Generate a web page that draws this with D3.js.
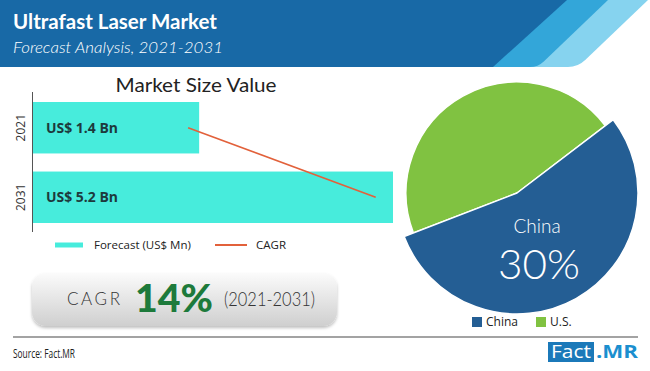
<!DOCTYPE html>
<html><head><meta charset="utf-8">
<script src="https://cdn.jsdelivr.net/npm/d3@7"></script>
<style>body{margin:0;background:#fff}svg{display:block}</style>
</head><body><svg id="c" width="650" height="371"></svg>
<script>
// ---- data ----
const years = ["2021", "2031"];
const barValues = [2.4, 5.2];            // visual bar lengths
const barLabels = ["US$ 1.4 Bn", "US$ 5.2 Bn"];
const cagrValues = [2.24, 4.95];         // CAGR line points
const pieRegions = ["China", "U.S."];
const pieShares = [54.5, 45.5];
const legendBar = ["Forecast (US$ Mn)", "CAGR"];

const svg = d3.select("#c");

// ---- header ----
const defs = svg.append("defs");
const hdr = svg.append("g");
function stripe(xTop, xBot, color, r) {
  const p = d3.path();
  p.moveTo(0, 0); p.lineTo(xTop, 0);
  const dx = xTop - xBot, dy = 67;
  const len = Math.hypot(dx, dy);
  p.lineTo(xBot + dx * r / len, dy - dy * r / len);
  p.quadraticCurveTo(xBot, dy, xBot - r, dy);
  p.lineTo(0, dy); p.closePath();
  hdr.append("path").attr("d", p.toString()).attr("fill", color);
}
stripe(648, 578, "#86d3ef", 10);
stripe(608, 538, "#33a6d9", 8);
stripe(567, 493, "#1869a6", 0.01);
hdr.append("text").attr("x", 13).attr("y", 29).text("Ultrafast Laser Market")
  .attr("fill", "#fff").attr("font-family", "Lato, sans-serif").attr("font-weight", 700)
  .attr("font-size", 20).attr("textLength", 204).attr("lengthAdjust", "spacingAndGlyphs");
hdr.append("text").attr("x", 13).attr("y", 53).text("Forecast Analysis, 2021-2031")
  .attr("fill", "#fff").attr("font-family", "Lato, sans-serif").attr("font-weight", 300)
  .attr("font-style", "italic").attr("font-size", 16).attr("textLength", 210).attr("lengthAdjust", "spacingAndGlyphs");

// ---- bar chart ----
const x = d3.scaleLinear().domain([0, 5.2]).range([33, 393]);
const y = d3.scaleBand().domain(years).range([102, 223]).paddingInner(0.26);

svg.append("text").attr("x", 196).attr("y", 92).attr("text-anchor", "middle")
  .text("Market Size Value").attr("font-family", "Lato, sans-serif").attr("font-weight", 400)
  .attr("font-size", 20).attr("fill", "#222").attr("textLength", 161).attr("lengthAdjust", "spacingAndGlyphs");

svg.selectAll("rect.bar").data(years).enter().append("rect").attr("class", "bar")
  .attr("x", x(0)).attr("y", d => y(d)).attr("height", y.bandwidth())
  .attr("width", (d, i) => x(barValues[i]) - x(0)).attr("fill", "#47ecdc");

svg.selectAll("text.bl").data(years).enter().append("text").attr("class", "bl")
  .attr("x", 46).attr("y", d => y(d) + y.bandwidth() / 2 + 5).text((d, i) => barLabels[i])
  .attr("font-family", "'Open Sans', sans-serif").attr("font-weight", 700).attr("font-size", 14)
  .attr("fill", "#1d3a3d").attr("textLength", 72).attr("lengthAdjust", "spacingAndGlyphs");

svg.append("line").attr("x1", 32.5).attr("x2", 32.5).attr("y1", 92).attr("y2", 232)
  .attr("stroke", "#555").attr("stroke-width", 1);
svg.selectAll("text.yl").data(years).enter().append("text").attr("class", "yl")
  .attr("transform", d => `translate(25,${y(d) + y.bandwidth() / 2}) rotate(-90)`)
  .attr("text-anchor", "middle").text(d => d)
  .attr("font-family", "'Open Sans', sans-serif").attr("font-size", 12).attr("fill", "#333");

const line = d3.line().x(d => x(d.v)).y(d => y(d.y) + y.bandwidth() / 2);
svg.append("path").datum(years.map((d, i) => ({ y: d, v: cagrValues[i] })))
  .attr("d", line).attr("stroke", "#e2613b").attr("stroke-width", 1.6).attr("fill", "none");

// legend
const lg = svg.append("g");
lg.append("line").attr("x1", 55).attr("x2", 83).attr("y1", 245).attr("y2", 245).attr("stroke", "#47ecdc").attr("stroke-width", 5);
lg.append("text").attr("x", 94).attr("y", 249).text(legendBar[0]).attr("font-family", "'Open Sans', sans-serif").attr("font-size", 11.5).attr("fill", "#222");
lg.append("line").attr("x1", 215).attr("x2", 247).attr("y1", 245).attr("y2", 245).attr("stroke", "#e2613b").attr("stroke-width", 2);
lg.append("text").attr("x", 256).attr("y", 249).text(legendBar[1]).attr("font-family", "'Open Sans', sans-serif").attr("font-size", 11.5).attr("fill", "#222");

// CAGR box
const g1 = defs.append("linearGradient").attr("id", "bx").attr("x1", 0).attr("x2", 0).attr("y1", 0).attr("y2", 1);
g1.append("stop").attr("offset", "0%").attr("stop-color", "#fbfbfb");
g1.append("stop").attr("offset", "100%").attr("stop-color", "#cfcfcf");
const f = defs.append("filter").attr("id", "sh").attr("x", "-10%").attr("y", "-10%").attr("width", "120%").attr("height", "140%");
f.append("feDropShadow").attr("dx", 0).attr("dy", 2).attr("stdDeviation", 1.5).attr("flood-color", "#000").attr("flood-opacity", 0.25);
svg.append("rect").attr("x", 32).attr("y", 273).attr("width", 305).attr("height", 53).attr("rx", 14)
  .attr("fill", "url(#bx)").attr("filter", "url(#sh)");
svg.append("text").attr("x", 67).attr("y", 305).text("CAGR").attr("font-family", "Lato, sans-serif").attr("font-weight", 300)
  .attr("font-size", 17).attr("fill", "#333").attr("textLength", 53).attr("lengthAdjust", "spacing");
svg.append("text").attr("x", 135).attr("y", 312).text("14%").attr("font-family", "Lato, sans-serif").attr("font-weight", 900)
  .attr("font-size", 37).attr("fill", "#1d7a3b").attr("textLength", 78).attr("lengthAdjust", "spacingAndGlyphs");
svg.append("text").attr("x", 224).attr("y", 306).text("(2021-2031)").attr("font-family", "Lato, sans-serif").attr("font-weight", 300)
  .attr("font-size", 19).attr("fill", "#333").attr("textLength", 91).attr("lengthAdjust", "spacingAndGlyphs");

// ---- pie ----
const colors = d3.scaleOrdinal().domain(pieRegions).range(["#245e94", "#80c241"]);
const radii = { "China": 121, "U.S.": 111 };
const a0 = 52.7 * Math.PI / 180;
const pie = d3.pie().sort(null).startAngle(a0).endAngle(a0 + 2 * Math.PI);
const arcs = pie(pieShares).map((a, i) => Object.assign(a, { k: pieRegions[i] }));
const pg = svg.append("g").attr("transform", "translate(517,193)");
pg.selectAll("path").data(arcs.slice().reverse()).enter().append("path")
  .attr("d", d => d3.arc().innerRadius(0).outerRadius(radii[d.k])(d))
  .attr("fill", d => colors(d.k)).attr("stroke", "#fff").attr("stroke-width", 1.5).attr("stroke-linejoin", "round");
pg.append("text").attr("x", 20).attr("y", 40).attr("text-anchor", "middle").text("China")
  .attr("font-family", "Lato, sans-serif").attr("font-weight", 300).attr("font-size", 19).attr("fill", "#fff");
pg.append("text").attr("x", 22).attr("y", 86).attr("text-anchor", "middle").text("30%")
  .attr("font-family", "Lato, sans-serif").attr("font-weight", 300).attr("font-size", 41).attr("fill", "#fff")
  .attr("textLength", 82).attr("lengthAdjust", "spacingAndGlyphs");

// pie legend
const pl = svg.append("g");
const lx = [472, 536];
pieRegions.forEach((r, i) => {
  pl.append("rect").attr("x", lx[i]).attr("y", 317).attr("width", 10).attr("height", 10).attr("fill", colors(r));
  pl.append("text").attr("x", lx[i] + 14).attr("y", 326).text(r).attr("font-family", "'Open Sans', sans-serif")
    .attr("font-size", 12).attr("fill", "#222");
});

// ---- footer ----
svg.append("line").attr("x1", 13).attr("x2", 638).attr("y1", 337).attr("y2", 337).attr("stroke", "#a3a3a3").attr("stroke-width", 2);
svg.append("text").attr("x", 13).attr("y", 358).text("Source: Fact.MR").attr("font-family", "'Open Sans', sans-serif")
  .attr("font-size", 13).attr("fill", "#222").attr("textLength", 62).attr("lengthAdjust", "spacingAndGlyphs");
svg.append("rect").attr("x", 548).attr("y", 342).attr("width", 46).attr("height", 20).attr("fill", "#1b79b9");
svg.append("text").attr("x", 571).attr("y", 358).attr("text-anchor", "middle").text("Fact").attr("font-family", "'Open Sans', sans-serif")
  .attr("font-size", 18).attr("fill", "#fff").attr("textLength", 40).attr("lengthAdjust", "spacingAndGlyphs");
svg.append("text").attr("x", 596).attr("y", 358).text(".MR").attr("font-family", "'Open Sans', sans-serif").attr("font-weight", 700)
  .attr("font-size", 18).attr("fill", "#1b8fcf").attr("textLength", 42).attr("lengthAdjust", "spacingAndGlyphs");
</script></body></html>
